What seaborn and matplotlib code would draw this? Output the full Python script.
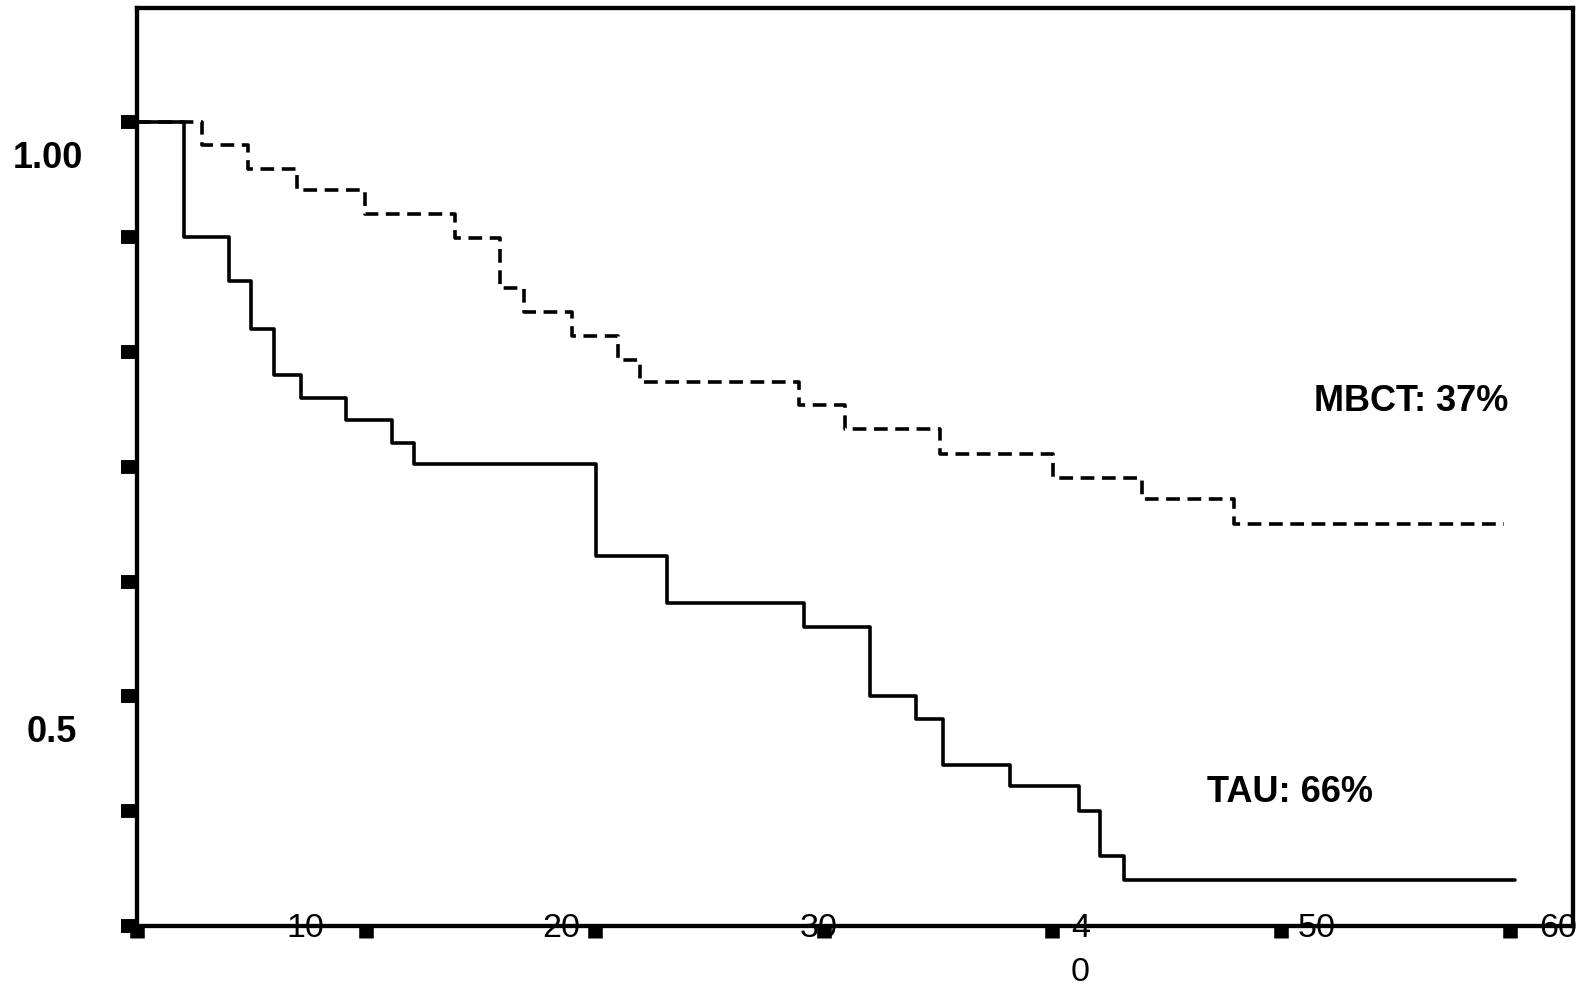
import numpy as np
import pandas as pd
import matplotlib
matplotlib.use("Agg")
import matplotlib.pyplot as plt
import matplotlib.transforms as mtransforms
import seaborn as sns

# ---------------- data ----------------
groups = ["TAU", "MBCT"]
tau_months = [0, 2.05, 4.0, 5.0, 6.0, 7.15, 9.15, 11.15, 12.1, 20.05, 23.15,
              29.15, 32.05, 34.05, 35.2, 38.15, 41.15, 42.1, 43.15, 60.2]
tau_surv = [1.0, 0.90, 0.862, 0.820, 0.780, 0.760, 0.741, 0.721, 0.702, 0.622,
            0.581, 0.560, 0.500, 0.480, 0.440, 0.422, 0.400, 0.361, 0.340, 0.340]
mbct_months = [0, 2.83, 4.83, 6.97, 9.96, 13.89, 15.88, 16.9, 19.03, 21.0, 22.0,
               28.93, 30.92, 35.1, 40.04, 43.93, 47.95, 59.74]
mbct_surv = [1.0, 0.980, 0.959, 0.941, 0.920, 0.899, 0.856, 0.835, 0.814, 0.793,
             0.774, 0.754, 0.733, 0.711, 0.690, 0.672, 0.650, 0.650]

x_ticks = [0, 10, 20, 30, 40, 50, 60]
x_tick_labels = ["10", "20", "30", "4\n0", "50", "60"]
y_ticks = [0.3, 0.4, 0.5, 0.6, 0.7, 0.8, 0.9, 1.0]
y_tick_labels = ["1.00", "0.5"]
annot_labels = ["MBCT: 37%", "TAU: 66%"]

# ---------------- layout (positions only) ----------------
x_label_pos = [7.34, 18.56, 29.78, 41.22, 51.57, 62.1]
y_label_pos = [(-0.0623, 0.984), (-0.0592, 0.484)]
annot_pos = [(55.7, 0.7724), (50.4, 0.4316)]

df = pd.concat([
    pd.DataFrame({"month": tau_months, "survival": tau_surv, "group": groups[0]}),
    pd.DataFrame({"month": mbct_months, "survival": mbct_surv, "group": groups[1]}),
], ignore_index=True)

sns.set_style("white")
plt.rcParams["font.family"] = ["Liberation Sans", "DejaVu Sans"]
plt.rcParams["text.color"] = "black"

W, H = 1583, 985
fig = plt.figure(figsize=(W / 100, H / 100), dpi=100)
ax = fig.add_axes([137 / W, 1 - 926 / H, (1573 - 137) / W, (926 - 7.5) / H])

sns.lineplot(data=df, x="month", y="survival", style="group",
             dashes={"TAU": "", "MBCT": (3.8, 2.1)}, color="black",
             linewidth=2.6, drawstyle="steps-post", estimator=None,
             sort=False, legend=False, ax=ax)

ax.set_xlim(0, 62.75)
ax.set_ylim(0.3, 1.1)
ax.set_xlabel("")
ax.set_ylabel("")
ax.set_xticks(x_ticks)
ax.set_xticklabels([])
ax.set_yticks(y_ticks)
ax.set_yticklabels([])
ax.tick_params(axis="x", bottom=True, direction="out", length=8.3, width=10.5,
               color="black")
ax.tick_params(axis="y", left=True, direction="out", length=11.5, width=10,
               color="black")
for s in ax.spines.values():
    s.set_linewidth(3.1)
    s.set_color("black")
    s.set_visible(True)

tr_x = mtransforms.blended_transform_factory(ax.transData, ax.transAxes)
for lab, pos in zip(x_tick_labels, x_label_pos):
    ax.text(pos, 13 / 918.5, lab, transform=tr_x, ha="center", va="top",
            fontsize=24.5, linespacing=1.55, color="black", clip_on=False)

tr_y = mtransforms.blended_transform_factory(ax.transAxes, ax.transData)
for lab, (px, py) in zip(y_tick_labels, y_label_pos):
    ax.text(px, py, lab, transform=tr_y, ha="center", va="top",
            fontsize=26, fontweight="bold", color="black", clip_on=False)

for lab, (px, py) in zip(annot_labels, annot_pos):
    ax.text(px, py, lab, ha="center", va="top", fontsize=26,
            fontweight="bold", color="black")

fig.savefig("out.png", dpi=100)
